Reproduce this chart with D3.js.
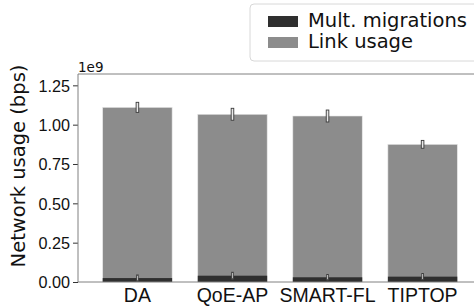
<!DOCTYPE html>
<html>
<head>
<meta charset="utf-8">
<script src="https://cdn.jsdelivr.net/npm/d3@7.9.0/dist/d3.min.js"></script>
<style>
  body { margin: 0; background: #fff; }
  svg { font-family: "DejaVu Sans", sans-serif; display: block; }
</style>
</head>
<body>
<svg id="chart" width="474" height="307"></svg>
<script>
const categories = ['DA', 'QoE-AP', 'SMART-FL', 'TIPTOP'];
const linkUsage = [1.110e9, 1.066e9, 1.055e9, 0.875e9];
const linkErr = [0.032e9, 0.038e9, 0.038e9, 0.025e9];
const migrations = [0.025e9, 0.040e9, 0.030e9, 0.034e9];
const migrErr = [0.020e9, 0.022e9, 0.018e9, 0.020e9];
const yTicks = [0, 0.25e9, 0.5e9, 0.75e9, 1.0e9, 1.25e9];

const svg = d3.select('#chart');
const mLeft = 78, mRight = 482, mTop = 74, mBottom = 282;

let x = d3.scaleBand()
  .domain(categories)
  .range([mLeft, mRight])
  .paddingInner(0.27)
  .paddingOuter(0.26);
let y = d3.scaleLinear().domain([0, 1.322e9]).range([mBottom, mTop]);

const gray = '#8c8c8c', dark = '#2f2f2f', spine = '#808080';

// bars: link usage (full height), migrations overlaid at the bottom
svg.append('g').selectAll('rect')
  .data(categories)
  .join('rect')
  .attr('x', d => x(d))
  .attr('width', x.bandwidth())
  .attr('y', (d, i) => y(linkUsage[i]))
  .attr('height', (d, i) => y(0) - y(linkUsage[i]))
  .attr('fill', gray)
  .attr('stroke', '#e6e6e6')
  .attr('stroke-width', 0.6);

svg.append('g').selectAll('rect')
  .data(categories)
  .join('rect')
  .attr('x', d => x(d))
  .attr('width', x.bandwidth())
  .attr('y', (d, i) => y(migrations[i]))
  .attr('height', (d, i) => y(0) - y(migrations[i]))
  .attr('fill', dark);

// error bars
function errBars(vals, errs, w) {
  svg.append('g').selectAll('rect')
    .data(categories)
    .join('rect')
    .attr('x', d => x(d) + x.bandwidth() / 2 - w / 2)
    .attr('width', w)
    .attr('y', (d, i) => y(vals[i] + errs[i]))
    .attr('height', (d, i) => y(vals[i] - errs[i]) - y(vals[i] + errs[i]))
    .attr('fill', '#e8e8e8')
    .attr('stroke', '#3a3a3a')
    .attr('stroke-width', 0.9);
}
errBars(linkUsage, linkErr, 2.6);
errBars(migrations, migrErr, 1.6);

// axes
let yAxis = d3.axisLeft(y)
  .tickValues(yTicks)
  .tickFormat(d => (d / 1e9).toFixed(2))
  .tickSize(5)
  .tickPadding(3);
let gy = svg.append('g').attr('transform', `translate(${mLeft},0)`).call(yAxis);
gy.select('.domain').remove();
gy.selectAll('line').attr('stroke', '#333');
gy.selectAll('text').attr('font-size', 16.2).attr('fill', '#111').attr('dy', '0.36em');

let xAxis = d3.axisBottom(x).tickSize(0).tickPadding(6);
let gx = svg.append('g').attr('transform', `translate(0,${mBottom})`).call(xAxis);
gx.select('.domain').remove();
gx.selectAll('text').attr('font-size', 19.5).attr('fill', '#111').attr('dy', '0.74em');

// spines
svg.append('line').attr('x1', mLeft).attr('x2', mLeft).attr('y1', mTop).attr('y2', mBottom)
  .attr('stroke', spine).attr('stroke-width', 1);
svg.append('line').attr('x1', mLeft).attr('x2', 474).attr('y1', mTop).attr('y2', mTop)
  .attr('stroke', spine).attr('stroke-width', 1);
svg.append('line').attr('x1', mLeft).attr('x2', 474).attr('y1', mBottom).attr('y2', mBottom)
  .attr('stroke', spine).attr('stroke-width', 1);

// offset text
svg.append('text').attr('x', mLeft).attr('y', 72).attr('font-size', 13.5).attr('fill', '#111').text('1e9');

// y label
svg.append('text')
  .attr('transform', `translate(25,${(mTop + mBottom) / 2 - 12}) rotate(-90)`)
  .attr('text-anchor', 'middle')
  .attr('font-size', 19.5)
  .attr('fill', '#111')
  .text('Network usage (bps)');

// legend
const legendItems = [
  { label: 'Mult. migrations', color: dark },
  { label: 'Link usage', color: gray },
];
let legend = svg.append('g');
legend.append('rect').attr('x', 250).attr('y', 4).attr('width', 240).attr('height', 57)
  .attr('rx', 4).attr('fill', '#fff').attr('stroke', '#d8d8d8');
legendItems.forEach((d, idx) => {
  legend.append('rect').attr('x', 268).attr('y', 16 + idx * 21).attr('width', 30).attr('height', 11)
    .attr('fill', d.color);
  legend.append('text').attr('x', 308).attr('y', 27 + idx * 21)
    .attr('font-size', 19.5).attr('fill', '#111').text(d.label);
});
</script>
</body>
</html>
